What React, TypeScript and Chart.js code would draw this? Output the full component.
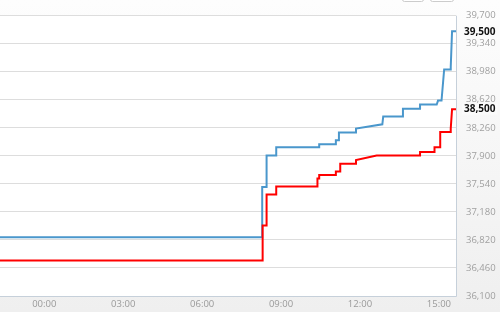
import React, { useEffect, useRef } from "react";
import { Chart, registerables } from "chart.js";

Chart.register(...registerables);

// time in minutes from 00:00 (negative = previous evening)
const blueTimes = [-101, 497, 497, 507, 507, 529, 529, 627, 627, 665, 665, 672, 672, 711, 711, 771, 773, 818, 818, 857, 857, 895, 898, 906, 912, 926, 927, 930, 939];
const blueValues = [36855, 36855, 37500, 37500, 37905, 37905, 38010, 38010, 38050, 38050, 38100, 38100, 38200, 38200, 38250, 38305, 38405, 38405, 38505, 38505, 38560, 38560, 38610, 38610, 39010, 39010, 39040, 39500, 39500];

const redTimes = [-101, 498, 498, 507, 507, 529, 529, 623, 623, 627, 627, 665, 665, 675, 675, 711, 711, 758, 857, 857, 890, 890, 903, 903, 926, 927, 930, 939];
const redValues = [36555, 36555, 37005, 37005, 37405, 37405, 37505, 37505, 37610, 37610, 37655, 37655, 37700, 37700, 37800, 37800, 37845, 37905, 37905, 37950, 37950, 38010, 38010, 38205, 38205, 38250, 38500, 38500];

const xTickMinutes = [0, 180, 360, 540, 720, 900];
const xMin = -101;
const xMax = 939;
const yMin = 36100;
const yMax = 39700;
const yStep = 360;

const BLUE = "#4a97cc";
const RED = "#ff0000";

const fmt = (v: number) => Math.round(v).toLocaleString("en-US");

const bgPlugin = {
  id: "bgPlugin",
  beforeDraw(chart: any) {
    const { ctx, width, height, chartArea } = chart;
    ctx.save();
    const g = ctx.createLinearGradient(0, 0, 0, height);
    g.addColorStop(0, "#fdfdfd");
    g.addColorStop(1, "#efefef");
    ctx.fillStyle = g;
    ctx.fillRect(0, 0, width, height);
    ctx.fillStyle = "#ffffff";
    ctx.fillRect(chartArea.left, chartArea.top, chartArea.right - chartArea.left, chartArea.bottom - chartArea.top);
    ctx.strokeStyle = "#cccccc";
    ctx.fillStyle = "#ffffff";
    ctx.lineWidth = 1;
    [[402.5, 21], [430.5, 23]].forEach(([x, w]) => {
      ctx.beginPath();
      ctx.roundRect(x, -6, w, 7.5, 2);
      ctx.fill();
      ctx.stroke();
    });
    ctx.restore();
  },
  afterDraw(chart: any) {
    const { ctx, chartArea } = chart;
    const ys = chart.scales.y;
    ctx.save();
    ctx.strokeStyle = "#c6d0da";
    ctx.lineWidth = 1;
    ctx.beginPath();
    ctx.moveTo(chartArea.right + 0.5, chartArea.top);
    ctx.lineTo(chartArea.right + 0.5, chartArea.bottom + 0.5);
    ctx.moveTo(chartArea.left, chartArea.bottom + 0.5);
    ctx.lineTo(chartArea.right + 0.5, chartArea.bottom + 0.5);
    ctx.stroke();
    ctx.font = "bold 10px 'Open Sans'";
    ctx.textAlign = "left";
    ctx.textBaseline = "middle";
    [blueValues[blueValues.length - 1], redValues[redValues.length - 1]].forEach((v) => {
      const y = ys.getPixelForValue(v);
      const t = fmt(v);
      const w = ctx.measureText(t).width;
      ctx.fillStyle = "#fbfbfb";
      ctx.fillRect(chartArea.right + 6, y - 5.5, w + 4, 11);
      ctx.fillStyle = "#111111";
      ctx.fillText(t, chartArea.right + 8, y + 0.5);
    });
    ctx.restore();
  },
};

export default function App() {
  const ref = useRef<HTMLCanvasElement | null>(null);
  useEffect(() => {
    if (!ref.current) return;
    const chart = new Chart(ref.current, {
      type: "line",
      data: {
        datasets: [
          {
            data: redTimes.map((t, i) => ({ x: t, y: redValues[i] })),
            borderColor: RED,
            borderWidth: 2,
            pointRadius: 0,
            tension: 0,
            fill: false,
          },
          {
            data: blueTimes.map((t, i) => ({ x: t, y: blueValues[i] })),
            borderColor: BLUE,
            borderWidth: 2,
            pointRadius: 0,
            tension: 0,
            fill: false,
          },
        ],
      },
      options: {
        animation: false,
        responsive: false,
        maintainAspectRatio: false,
        layout: { padding: { top: 10, right: 0, bottom: 0, left: 0 } },
        plugins: { legend: { display: false }, tooltip: { enabled: false } },
        scales: {
          x: {
            type: "linear",
            min: xMin,
            max: xMax,
            afterBuildTicks: (s: any) => {
              s.ticks = xTickMinutes.map((v) => ({ value: v }));
            },
            afterFit: (s: any) => {
              s.height = 16;
            },
            grid: { display: false, drawTicks: false },
            border: { display: false },
            ticks: {
              padding: 3,
              color: "#9a9a9a",
              font: { family: "'Open Sans'", size: 9.5 },
              maxRotation: 0,
              autoSkip: false,
              callback: (v: any) => String(Math.floor(Number(v) / 60)).padStart(2, "0") + ":00",
            },
          },
          y: {
            position: "right",
            min: yMin,
            max: yMax,
            afterFit: (s: any) => {
              s.width = 44;
            },
            grid: { color: "#dddddd", drawTicks: false },
            border: { display: false },
            ticks: {
              stepSize: yStep,
              padding: 10,
              color: "#a0a0a0",
              font: { family: "'Open Sans'", size: 9.5 },
              callback: (v: any) => fmt(Number(v)),
            },
          },
        },
      },
      plugins: [bgPlugin],
    });
    return () => chart.destroy();
  }, []);
  return (
    <div style={{ position: "fixed", left: 0, top: 0, width: 500, height: 312 }}>
      <canvas ref={ref} width={500} height={312} style={{ display: "block" }} />
    </div>
  );
}
